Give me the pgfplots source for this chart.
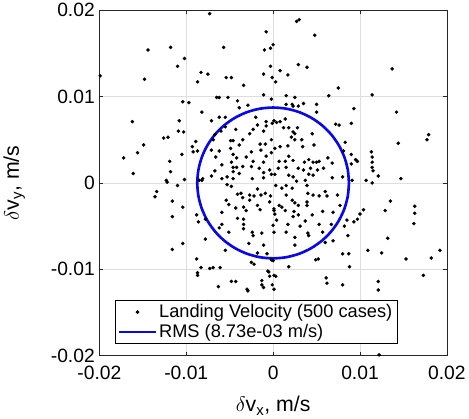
\documentclass[border=0pt]{standalone}
\usepackage{pgfplots}
\usepackage{pgfplotstable}
\usepackage{amsmath}
\usepackage{fontspec}
\setmainfont{Liberation Sans}
\pgfplotsset{compat=1.18}

\definecolor{rmsblue}{rgb}{0.03,0.03,0.92}

\pgfplotsset{
  dotlegend/.style={legend image code/.code={
    \draw[mark repeat=2, mark phase=2, ##1]
      plot coordinates {(0pt,0pt) (18pt,0pt) (36pt,0pt)};}},
  linelegend/.style={legend image code/.code={
    \draw[##1] (0pt,0pt) -- (36pt,0pt);}},
}

% landing velocity dispersion (dvx, dvy) in m/s
\pgfplotstableread{
x y
-0.0199 0.0124
-0.0073 0.0196
-0.0144 0.0154
-0.0118 0.0157
-0.0102 0.0144
-0.0110 0.0135
-0.0148 0.0120
-0.0083 0.0128
-0.0075 0.0126
-0.0087 0.0117
-0.0057 0.0157
-0.0054 0.0122
-0.0048 0.0122
-0.0034 0.0113
-0.0011 0.0126
-0.0010 0.0154
-0.0008 0.0175
-0.0011 0.0102
-0.0104 0.0094
-0.0097 0.0093
-0.0082 0.0082
-0.0065 0.0099
-0.0062 0.0099
-0.0052 0.0099
-0.0041 0.0095
-0.0162 0.0071
-0.0108 0.0072
-0.0109 0.0060
-0.0103 0.0059
-0.0126 0.0052
-0.0121 0.0053
-0.0149 0.0044
-0.0156 0.0035
-0.0172 0.0029
-0.0161 0.0011
-0.0105 0.0033
-0.0119 0.0025
-0.0118 0.0013
-0.0123 0.0003
-0.0089 0.0048
-0.0093 0.0042
-0.0087 0.0037
-0.0092 0.0036
-0.0082 0.0003
-0.0071 0.0008
-0.0071 0.0038
-0.0039 0.0087
-0.0029 0.0090
-0.0062 0.0076
-0.0055 0.0076
-0.0071 0.0072
-0.0055 0.0065
-0.0020 0.0076
-0.0008 0.0071
-0.0001 0.0069
-0.0018 0.0067
-0.0008 0.0066
-0.0060 0.0060
-0.0043 0.0062
-0.0023 0.0062
-0.0027 0.0057
-0.0011 0.0060
-0.0067 0.0056
-0.0069 0.0050
-0.0049 0.0049
-0.0046 0.0049
-0.0035 0.0050
-0.0002 0.0050
-0.0039 0.0044
-0.0015 0.0045
-0.0009 0.0045
-0.0049 0.0040
-0.0062 0.0037
-0.0025 0.0036
-0.0014 0.0038
-0.0046 0.0033
-0.0066 0.0030
-0.0042 0.0029
-0.0031 0.0030
-0.0008 0.0031
-0.0023 0.0025
-0.0048 0.0024
-0.0011 0.0024
-0.0059 0.0021
-0.0046 0.0018
-0.0042 0.0018
-0.0035 0.0019
-0.0025 0.0019
-0.0016 0.0017
-0.0067 0.0014
-0.0046 0.0013
-0.0039 0.0011
-0.0011 0.0012
-0.0004 0.0015
-0.0059 0.0005
-0.0046 0.0005
-0.0053 0.0007
-0.0024 0.0005
-0.0011 0.0006
-0.0081 0.0005
-0.0085 0.0003
-0.0002 0.0097
0.0015 0.0101
0.0025 0.0099
0.0064 0.0101
0.0015 0.0091
0.0022 0.0091
0.0023 0.0089
0.0029 0.0089
0.0035 0.0092
0.0050 0.0091
0.0050 0.0082
0.0093 0.0086
0.0001 0.0072
0.0004 0.0070
0.0008 0.0071
0.0014 0.0074
0.0012 0.0064
0.0018 0.0064
0.0023 0.0059
0.0025 0.0057
0.0028 0.0064
0.0021 0.0053
0.0025 0.0050
0.0033 0.0050
0.0045 0.0057
0.0072 0.0068
0.0076 0.0067
0.0090 0.0069
0.0017 0.0043
0.0008 0.0042
0.0002 0.0040
0.0034 0.0042
0.0047 0.0044
-0.0002 0.0035
0.0018 0.0031
0.0007 0.0025
0.0014 0.0025
0.0023 0.0026
0.0036 0.0024
0.0041 0.0027
0.0046 0.0024
0.0050 0.0024
0.0053 0.0025
0.0063 0.0029
0.0068 0.0023
0.0081 0.0037
0.0090 0.0033
0.0095 0.0027
0.0006 0.0017
0.0015 0.0018
0.0029 0.0017
0.0035 0.0015
0.0043 0.0017
0.0051 0.0015
0.0058 0.0017
-0.0002 0.0010
0.0002 0.0010
0.0018 0.0009
0.0023 0.0007
0.0041 0.0010
0.0046 0.0009
0.0068 0.0006
0.0080 0.0007
0.0091 0.0003
0.0037 0.0003
0.0027 0.0002
0.0027 0.0187
0.0030 0.0189
0.0048 0.0171
-0.0003 0.0156
0.0000 0.0160
-0.0003 0.0135
0.0008 0.0130
0.0029 0.0137
0.0039 0.0134
-0.0001 0.0122
0.0003 0.0117
0.0017 0.0125
0.0075 0.0110
0.0137 0.0132
0.0114 0.0102
0.0142 0.0082
0.0179 0.0056
0.0177 0.0050
0.0144 0.0046
0.0113 0.0036
0.0114 0.0030
0.0114 0.0024
0.0083 0.0047
0.0097 0.0025
0.0090 0.0022
0.0114 0.0018
0.0115 0.0014
0.0121 0.0008
0.0107 0.0003
0.0114 0.0000
0.0147 0.0005
0.0135 -0.0021
0.0129 -0.0032
0.0163 -0.0027
0.0163 -0.0035
0.0162 -0.0047
0.0104 -0.0031
0.0100 -0.0036
0.0097 -0.0042
0.0093 -0.0045
0.0132 -0.0064
0.0109 -0.0078
0.0125 -0.0081
0.0153 -0.0088
0.0182 -0.0087
0.0192 -0.0078
0.0173 -0.0107
0.0080 -0.0082
0.0087 -0.0082
0.0088 -0.0097
0.0069 -0.0067
0.0052 -0.0088
0.0061 -0.0110
0.0062 -0.0116
0.0080 -0.0118
0.0121 -0.0114
0.0121 -0.0124
0.0122 -0.0199
0.0018 -0.0097
-0.0005 -0.0103
-0.0004 -0.0108
0.0003 -0.0108
0.0000 -0.0090
-0.0013 -0.0118
0.0015 -0.0014
0.0007 -0.0026
0.0010 -0.0028
0.0014 -0.0032
0.0001 -0.0032
0.0002 -0.0036
0.0022 -0.0020
0.0025 -0.0023
0.0029 -0.0026
0.0024 -0.0033
0.0029 -0.0037
0.0023 -0.0039
0.0039 -0.0003
0.0039 -0.0022
0.0039 -0.0026
0.0045 -0.0037
0.0037 -0.0044
0.0004 -0.0043
0.0017 -0.0048
0.0015 -0.0057
0.0031 -0.0050
0.0040 -0.0058
0.0041 -0.0061
0.0025 -0.0063
0.0025 -0.0072
0.0053 -0.0048
0.0060 -0.0010
0.0062 -0.0015
0.0053 -0.0015
0.0057 -0.0033
0.0069 -0.0034
0.0074 -0.0014
0.0077 -0.0026
0.0067 -0.0048
0.0057 -0.0057
0.0060 -0.0069
0.0082 -0.0050
0.0085 -0.0043
0.0086 -0.0061
0.0049 -0.0089
0.0003 -0.0003
0.0010 -0.0006
0.0015 -0.0003
0.0022 -0.0006
0.0040 -0.0012
0.0046 -0.0014
-0.0053 -0.0002
-0.0048 -0.0004
-0.0041 -0.0013
-0.0037 -0.0012
-0.0035 -0.0017
-0.0027 -0.0014
-0.0022 -0.0015
-0.0027 -0.0020
-0.0014 -0.0014
-0.0009 -0.0012
-0.0003 -0.0015
-0.0018 -0.0007
-0.0054 -0.0020
-0.0051 -0.0025
-0.0043 -0.0029
-0.0034 -0.0028
-0.0031 -0.0032
-0.0018 -0.0026
-0.0015 -0.0031
-0.0004 -0.0022
0.0001 -0.0030
-0.0059 -0.0034
-0.0088 -0.0037
-0.0086 -0.0045
-0.0078 -0.0042
-0.0041 -0.0041
-0.0034 -0.0042
-0.0034 -0.0048
-0.0034 -0.0053
-0.0059 -0.0048
-0.0062 -0.0052
-0.0024 -0.0057
-0.0023 -0.0061
-0.0013 -0.0058
0.0000 -0.0049
0.0001 -0.0057
-0.0051 -0.0057
-0.0078 -0.0065
-0.0028 -0.0070
-0.0011 -0.0072
-0.0055 -0.0078
-0.0018 -0.0081
-0.0025 -0.0092
-0.0022 -0.0094
-0.0104 -0.0070
-0.0088 -0.0088
-0.0083 -0.0098
-0.0073 -0.0099
-0.0069 -0.0098
-0.0061 -0.0098
-0.0087 -0.0104
-0.0104 -0.0028
-0.0122 0.0001
-0.0110 -0.0003
-0.0102 0.0004
-0.0134 -0.0010
-0.0136 -0.0016
-0.0116 -0.0021
-0.0116 -0.0039
-0.0116 -0.0077
-0.0087 -0.0107
-0.0063 -0.0120
-0.0048 -0.0114
-0.0043 -0.0114
-0.0030 -0.0123
-0.0013 -0.0113
-0.0011 -0.0121
-0.0001 -0.0118
0.0001 -0.0123
-0.0006 -0.0102
0.0001 -0.0107
-0.0029 -0.0125
-0.0002 -0.0089
-0.0007 -0.0082
}\landing

% RMS circle, r = 8.73e-3 m/s, every 10 deg
\pgfplotstableread{
x y
0.008730 0.000000
0.008597 0.001516
0.008203 0.002986
0.007560 0.004365
0.006688 0.005612
0.005612 0.006688
0.004365 0.007560
0.002986 0.008203
0.001516 0.008597
0.000000 0.008730
-0.001516 0.008597
-0.002986 0.008203
-0.004365 0.007560
-0.005612 0.006688
-0.006688 0.005612
-0.007560 0.004365
-0.008203 0.002986
-0.008597 0.001516
-0.008730 0.000000
-0.008597 -0.001516
-0.008203 -0.002986
-0.007560 -0.004365
-0.006688 -0.005612
-0.005612 -0.006688
-0.004365 -0.007560
-0.002986 -0.008203
-0.001516 -0.008597
0.000000 -0.008730
0.001516 -0.008597
0.002986 -0.008203
0.004365 -0.007560
0.005612 -0.006688
0.006688 -0.005612
0.007560 -0.004365
0.008203 -0.002986
0.008597 -0.001516
0.008730 0.000000
}\rmscircle

\begin{document}
\begin{tikzpicture}
\begin{axis}[
  scale only axis,
  width=343pt, height=341pt,
  xmin=-0.02, xmax=0.02,
  ymin=-0.02, ymax=0.02,
  scaled ticks=false,
  xtick={-0.02,-0.01,0,0.01,0.02},
  ytick={-0.02,-0.01,0,0.01,0.02},
  xticklabels={-0.02,-0.01,0,0.01,0.02},
  yticklabels={-0.02,-0.01,0,0.01,0.02},
  tick label style={font=\fontsize{19}{22}\selectfont},
  xticklabel style={yshift=-7pt},
  yticklabel style={xshift=-1pt},
  grid=major,
  major grid style={color=black!13, line width=0.6pt},
  axis line style={color=black!85, line width=0.7pt},
  tick style={color=black!85, line width=0.7pt},
  tick align=inside,
  major tick length=4pt,
  xlabel={$\delta$v$_{\text{x}}$, m/s},
  ylabel={$\delta$v$_{\text{y}}$, m/s},
  label style={font=\fontsize{21}{25}\selectfont},
  xlabel style={at={(axis description cs:0.5,-0.145)}, anchor=center},
  ylabel style={at={(axis description cs:-0.245,0.5)}, anchor=center},
  legend style={
    at={(0.044,0.035)}, anchor=south west,
    draw=black, line width=0.6pt, fill=white,
    font=\fontsize{18}{21}\selectfont,
    inner xsep=3pt, inner ysep=2pt,
    row sep=1pt,
    cells={anchor=west},
  },
]
\addplot[only marks, mark=*, mark size=1.55pt, color=black, dotlegend]
  table {\landing};
\addlegendentry{Landing Velocity (500 cases)}
\addplot[smooth, color=rmsblue, line width=2.6pt, no marks, linelegend]
  table {\rmscircle};
\addlegendentry{RMS (8.73e-03 m/s)}
\end{axis}
\end{tikzpicture}
\end{document}
